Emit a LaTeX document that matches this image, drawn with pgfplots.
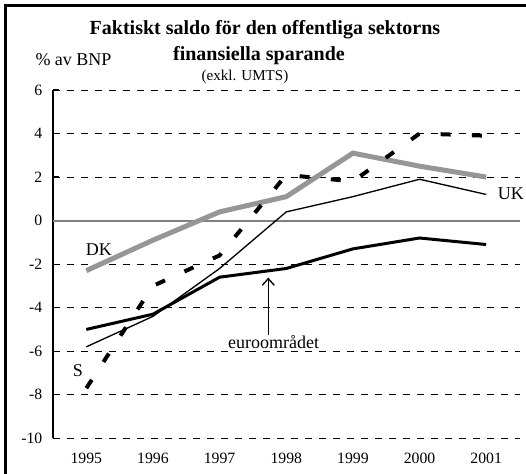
\documentclass[border=0pt]{standalone}
\usepackage{fontspec}
\setmainfont{Liberation Serif}
\usepackage{pgfplots}
\pgfplotsset{compat=1.18}
\usetikzlibrary{arrows.meta}
\definecolor{dkgray}{RGB}{150,150,150}
\definecolor{zgray}{RGB}{128,128,128}
\begin{document}
\begin{tikzpicture}[x=0.75pt,y=0.75pt]
\useasboundingbox (0,0) rectangle (526,474);
\draw[line width=2.25pt] (5,-5) -- (5,468) -- (531,468);
\node[font=\fontsize{15}{17}\selectfont\bfseries] at (265,444) {Faktiskt saldo för den offentliga sektorns};
\node[font=\fontsize{15}{17}\selectfont\bfseries] at (259,418) {finansiella sparande};
\node[font=\fontsize{11.3}{13}\selectfont] at (245,397) {(exkl. UMTS)};
\node[font=\fontsize{13.5}{15}\selectfont] at (73.5,414) {\% av BNP};
\begin{axis}[
  at={(39.75pt,26.8pt)}, anchor=south west,
  scale only axis, width=349.9pt, height=261.2pt,
  xmin=1994.5, xmax=2001.5, ymin=-10, ymax=6,
  xtick={1995,1996,1997,1998,1999,2000,2001},
  xticklabels={1995,1996,1997,1998,1999,2000,2001},
  ytick={-10,-8,-6,-4,-2,0,2,4,6},
  axis lines*=left,
  x axis line style={draw=none},
  y axis line style={line width=0.9pt},
  xtick style={draw=none},
  ytick style={black,line width=0.9pt},
  tick align=inside, major tick length=4.5pt,
  ymajorgrids,
  grid style={black, line width=0.6pt, dash pattern=on 5pt off 5.5pt},
  /pgf/number format/assume math mode=true,
  tick label style={font=\fontsize{11.8}{13}\selectfont},
  xticklabel style={yshift=-7.5pt},
  yticklabel style={xshift=-4.5pt},
  clip=false,
]
\addplot[zgray, line width=1.5pt] coordinates {(1994.5,0) (2001.5,0)};
\addplot[dkgray, line width=3.75pt] coordinates {(1995,-2.3) (1996,-0.9) (1997,0.4) (1998,1.1) (1999,3.1) (2000,2.5) (2001,2.0)};
\addplot[black, line width=3pt, dash pattern=on 7.5pt off 16pt] coordinates {(1995,-7.7) (1996,-3.0) (1997,-1.6) (1998,2.1) (1999,1.8) (2000,4.0) (2001,3.9)};
\addplot[black, line width=1pt] coordinates {(1995,-5.8) (1996,-4.4) (1997,-2.2) (1998,0.4) (1999,1.1) (2000,1.9) (2001,1.2)};
\addplot[black, line width=2.25pt] coordinates {(1995,-5.0) (1996,-4.3) (1997,-2.6) (1998,-2.2) (1999,-1.3) (2000,-0.8) (2001,-1.1)};
\node[font=\fontsize{13.5}{15}\selectfont] at (axis cs:1995.19,-1.35) {DK};
\node[font=\fontsize{13.5}{15}\selectfont] at (axis cs:2001.37,1.22) {UK};
\node[font=\fontsize{13.5}{15}\selectfont] at (axis cs:1994.875,-6.9) {S};
\node[font=\fontsize{13.5}{15}\selectfont] at (axis cs:1997.81,-5.6) {euroområdet};
\draw[line width=1pt, -{Straight Barb[length=5pt,width=9pt]}] (axis cs:1997.73,-5.25) -- (axis cs:1997.73,-2.62);
\end{axis}
\end{tikzpicture}
\end{document}
